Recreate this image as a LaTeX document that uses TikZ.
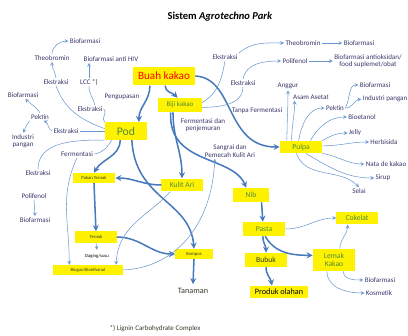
\documentclass[tikz,border=0pt]{standalone}
\usepackage{fontspec}
\setmainfont{Carlito}
\usetikzlibrary{arrows.meta}
\definecolor{garistebal}{RGB}{70,122,186}
\definecolor{garistipis}{RGB}{105,150,206}
\definecolor{teksbiru}{RGB}{55,55,105}
\definecolor{teksijo}{RGB}{80,140,60}
\definecolor{teksgelap}{RGB}{50,60,40}
\begin{document}
\begin{tikzpicture}[x=0.03cm,y=-0.03cm,
  tebal/.style={draw=garistebal,line width=1.3pt,>=stealth,->},
  tipis/.style={draw=garistipis,line width=0.45pt,>=stealth},
  kotak/.style={fill=yellow,inner sep=0pt,text=teksijo,align=center,font=\fontsize{6.5}{7}\selectfont},
  kecil/.style={kotak,text=teksgelap,font=\fontsize{4}{5}\selectfont},
  lbl/.style={text=teksbiru,inner sep=1pt,align=center,font=\fontsize{6}{6.5}\selectfont}]
\useasboundingbox (0,0) rectangle (408,336);
\node[font=\bfseries\fontsize{9}{10}\selectfont] (judul) at (220,17) {Sistem \textit{Agrotechno Park}};
% kotak kuning
\node[kotak,minimum width=53pt,minimum height=16pt,text=red,font=\fontsize{9.5}{10}\selectfont] (buah) at (164,76) {Buah kakao};
\node[kotak,minimum width=37pt,minimum height=12pt,font=\fontsize{6}{7}\selectfont] (biji) at (180,105) {Biji kakao};
\node[kotak,minimum width=36pt,minimum height=15pt,font=\fontsize{10}{11}\selectfont] (pod) at (126,131) {Pod};
\node[kotak,minimum width=36pt,minimum height=10.5pt] (pulpa) at (301,147) {Pulpa};
\node[kecil,minimum width=36pt,minimum height=8.5pt] (pakan) at (94,178) {Pakan Ternak};
\node[kotak,minimum width=35pt,minimum height=11pt] (kulit) at (182,185) {Kulit Ari};
\node[kotak,minimum width=31pt,minimum height=12pt] (nib) at (251,195) {Nib};
\node[kotak,minimum width=36pt,minimum height=12pt] (pasta) at (264,229) {Pasta};
\node[kotak,minimum width=35pt,minimum height=12pt,text=teksgelap] (bubuk) at (266,260) {Bubuk};
\node[kotak,minimum width=50pt,minimum height=10.5pt,text=black,font=\fontsize{7}{8}\selectfont] (produk) at (279,292) {Produk olahan};
\node[kotak,minimum width=36pt,minimum height=19pt] (lemak) at (334,260) {Lemak\\Kakao};
\node[kotak,minimum width=35pt,minimum height=11pt] (cokelat) at (357,218) {Cokelat};
\node[kecil,minimum width=35pt,minimum height=9.5pt] (ternak) at (96,237) {Ternak};
\node[kecil,minimum width=59pt,minimum height=8.5pt] (biogas) at (88,270) {Biogas/Bioethanol};
\node[kecil,minimum width=32pt,minimum height=8.5pt] (kompos) at (194,254) {Kompos};
% label
\foreach \nama/\teks/\x/\y in {bfA/Biofarmasi/85/41, theoA/Theobromin/52/58, hiv/Biofarmasi anti HIV/111/59,
  eksA/Ekstraksi/56/82, lcc/LCC *)/89/82, bfB/Biofarmasi/23/95, kupas/Pengupasan/122/97,
  eksB/Ekstraksi/90/109, pektinA/Pektin/40/117, indA/Industri\\pangan/23/141, eksC/Ekstraksi/66/131,
  ferm/Fermentasi/77/154, eksD/Ekstraksi/38/173, poliA/Polifenol/34/196, bfC/Biofarmasi/35/220,
  eksE/Ekstraksi/225/57, eksF/Ekstraksi/243/83, theoB/Theobromin/303/43, bfD/Biofarmasi/359/43,
  poliB/Polifenol/295/61, bfE/{Biofarmasi antioksidan/\\food suplemet/obat}/368/61,
  tanpa/Tanpa Fermentasi/257/111, anggur/Anggur/288/86, asam/Asam Asetat/311/97,
  pektinB/Pektin/335/108, bfF/Biofarmasi/375/85, indB/Industri pangan/385/99,
  bioet/Bioetanol/362/117, jelly/Jelly/355/133, herb/Herbisida/384/142,
  nata/Nata de kakao/386/164, sirup/Sirup/383/178, selai/Selai/359/191,
  fdp/Fermentasi dan\\penjemuran/203/125, sangrai/Sangrai dan\\Pemecah Kulit Ari/230/151,
  bfG/Biofarmasi/380/280, kosm/Kosmetik/379/293}
  \node[lbl] (\nama) at (\x,\y) {\teks};
\node[font=\fontsize{7}{8}\selectfont,text=teksgelap] (tanaman) at (193,291) {Tanaman};
\node[font=\fontsize{4}{5}\selectfont] (daging) at (97,256) {Daging/susu};
\node[font=\fontsize{6}{7}\selectfont,text=teksgelap] (catatan) at (155,329) {*) Lignin Carbohydrate Complex};
% alur utama
\draw[tebal] ([xshift=-12pt]buah.south) to[out=-90,in=90] ([xshift=11pt]pod.north);
\draw[tebal] ([xshift=1pt]buah.south) to[out=-90,in=135] ([xshift=-2pt]biji.north);
\draw[tebal] (buah.east) .. controls (235,78) and (225,147) .. (pulpa.west);
\draw[tebal] ([xshift=-5pt]pod.south) to[out=-90,in=60] (pakan.north);
\draw[tebal] ([xshift=5pt]pod.south) .. controls (135,200) and (190,200) .. (kompos.north);
\draw[tebal] ([xshift=-6pt]biji.south) to[out=-90,in=90] (kulit.north);
\draw[tebal] ([xshift=-8pt]biji.south) .. controls (168,165) and (232,155) .. ([xshift=-4pt]nib.north);
\draw[tebal] (kulit.west) to[out=180,in=0] (pakan.east);
\draw[tebal] (pakan.south) -- (ternak.north);
\draw[tebal] (ternak.east) to[out=0,in=180] (kompos.west);
\draw[tebal] (kompos.south) -- (tanaman.north);
\draw[tebal] ([xshift=9pt]nib.south) -- ([xshift=-1pt]pasta.north);
\draw[tebal] ([xshift=-1pt]pasta.south) to[out=-90,in=90] (bubuk.north);
\draw[tebal] ([xshift=1pt]pasta.south) to[out=-60,in=180] ([yshift=4pt]lemak.west);
\draw[tebal] (bubuk.south) to[out=-90,in=100] ([xshift=-6pt]produk.north);
% pod
\draw[tipis] ([yshift=2pt]pod.west) to[out=160,in=-70] (eksA.south);
\draw[tipis,->] (eksA.north) to[out=95,in=-90] (theoA.south);
\draw[tipis,->] (theoA.north) to[out=90,in=180] (bfA.west);
\draw[tipis] (pod.north west) to[out=150,in=-30] (eksB.east);
\draw[tipis] ([xshift=4pt]eksB.north) to[out=100,in=-90] (lcc.south);
\draw[tipis,->] (lcc.north) -- (lcc.north |- hiv.south);
\draw[tipis] (pod.west) -- (eksC.east);
\draw[tipis,->] (eksC.west) to[out=160,in=-20] ([xshift=3pt]pektinA.south);
\draw[tipis,->] (pektinA.north) to[out=120,in=-45] ([xshift=2pt]bfB.south);
\draw[tipis,->] (pektinA.south west) to[out=-135,in=60] (indA.north);
\draw[tipis] (pod.south west) to[out=180,in=90] (eksD.north);
\draw[tipis,->] (poliA.south) -- (bfC.north);
\draw[tipis] ([xshift=6pt]pod.south west) to[out=-120,in=10] (ferm.east);
\draw[tipis,->] (ferm.south) to[out=-115,in=90] ([xshift=-16pt]biogas.north);
\draw[tipis,->] ([xshift=-10pt]kulit.south) .. controls (150,215) and (118,225) .. ([xshift=24pt]biogas.north);
\draw[tipis,->] (biogas.east) .. controls (175,268) and (212,225) .. ([xshift=-13pt]sangrai.south);
\draw[tipis,->] (ternak.south) -- (daging.north);
% biji kakao
\draw[tipis] ([yshift=2pt]biji.east) to[out=30,in=-100] (eksE.south);
\draw[tipis,->] (eksE.north east) to[out=40,in=180] (theoB.west);
\draw[tipis] ([yshift=-2pt]biji.east) to[out=0,in=-90] (eksF.south);
\draw[tipis,->] (eksF.north) to[out=80,in=180] (poliB.west);
\draw[tipis,->] (theoB) -- (bfD);
\draw[tipis,->] (poliB) -- (bfE);
% pulpa
\draw[tipis,->] ([xshift=-12pt]pulpa.north) to[out=90,in=-90] (anggur.south);
\draw[tipis,->] ([xshift=-8pt]pulpa.north) to[out=90,in=-90] ([xshift=-14pt]asam.south);
\draw[tipis,->] ([xshift=-2pt]pulpa.north) to[out=80,in=180] (pektinB.west);
\draw[tipis,->] (pektinB.east) to[out=60,in=180] (bfF.west);
\draw[tipis,->] (pektinB.east) to[out=0,in=190] (indB.west);
\draw[tipis,->] ([xshift=8pt]pulpa.north) to[out=60,in=180] (bioet.west);
\draw[tipis,->] (pulpa.north east) to[out=30,in=180] (jelly.west);
\draw[tipis,->] ([yshift=1pt]pulpa.east) to[out=0,in=180] (herb.west);
\draw[tipis,->] (pulpa.south east) to[out=-10,in=180] (nata.west);
\draw[tipis,->] ([xshift=4pt]pulpa.south) to[out=-30,in=180] (sirup.west);
\draw[tipis,->] ([xshift=-4pt]pulpa.south) to[out=-70,in=135] (selai.north);
% pasta dan lemak
\draw[tipis,->] (pasta.east) to[out=0,in=180] (cokelat.west);
\draw[tipis,->] ([xshift=5pt]lemak.north) to[out=90,in=-90] ([xshift=-8pt]cokelat.south);
\draw[tipis,->] ([xshift=8pt]lemak.south) to[out=-90,in=180] (bfG.west);
\draw[tipis,->] ([xshift=-6pt]lemak.south) to[out=-90,in=180] (kosm.west);
\end{tikzpicture}
\end{document}
